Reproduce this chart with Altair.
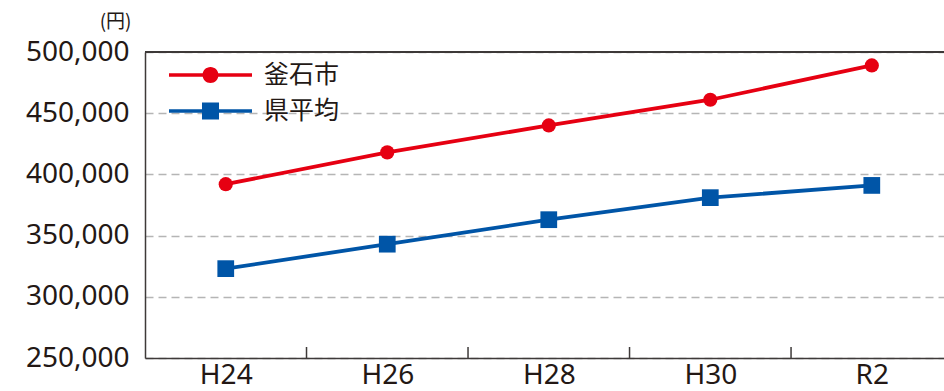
import altair as alt
import pandas as pd

years = ["H24", "H26", "H28", "H30", "R2"]
series_names = ["釜石市", "県平均"]
kamaishi = [392000, 418000, 440000, 461000, 489000]
pref_avg = [323000, 343000, 363000, 381000, 391000]
colors = ["#E60012", "#0055A7"]
y_ticks = [250000, 300000, 350000, 400000, 450000, 500000]
boundaries = [0.5, 1.5, 2.5, 3.5]

rows = []
for i, y in enumerate(years):
    rows.append({"idx": i, "year": y, "series": series_names[0], "value": kamaishi[i]})
    rows.append({"idx": i, "year": y, "series": series_names[1], "value": pref_avg[i]})
df = pd.DataFrame(rows)
bdf = pd.DataFrame({"b": boundaries})

W, H = 799, 306
FONT = "Noto Sans"
JFONT = "Noto Sans CJK JP"
TXT = "#231815"

label_expr = "[" + ",".join(f"'{y}'" for y in years) + "][datum.value]"

x_scale = alt.Scale(domain=[-0.5, 4.447], nice=False, zero=False)
y_scale = alt.Scale(domain=[250000, 500000], nice=False, zero=False)
c_scale = alt.Scale(domain=series_names, range=colors)

x_enc = alt.X("idx:Q", scale=x_scale,
              axis=alt.Axis(values=list(range(len(years))), labelExpr=label_expr,
                            title=None, grid=False, ticks=False, domain=True,
                            domainColor="#3e3a39", domainWidth=1.5,
                            labelFont=FONT, labelFontSize=28, labelColor=TXT,
                            labelPadding=3, labelFlush=False))
y_enc = alt.Y("value:Q", scale=y_scale,
              axis=alt.Axis(values=y_ticks, format=",.0f", title="(円)", titleAngle=0,
                            titleAlign="right", titleX=-14, titleY=-25,
                            titleBaseline="alphabetic", titleFont=JFONT,
                            titleFontSize=19, titleFontWeight="normal", titleColor=TXT,
                            grid=True, gridDash=[8, 5], gridColor="#b5b5b5", gridWidth=1.5,
                            ticks=False, domain=True, domainColor="#3e3a39", domainWidth=1.5,
                            labelFont=FONT, labelFontSize=28, labelColor=TXT,
                            labelPadding=16))

p_circle = "M-1,-0.045H1V0.045H-1Z M-0.193,0A0.193,0.193,0,1,1,0.193,0A0.193,0.193,0,1,1,-0.193,0Z"
p_square = "M-1,-0.045H1V0.045H-1Z M-0.205,-0.205H0.205V0.205H-0.205Z"

legend = alt.Legend(
    title=None, orient="none", legendX=24, legendY=5, padding=0,
    symbolSize=6889, symbolStrokeWidth=0, symbolOpacity=1,
    clipHeight=36, rowPadding=0,
    labelFont=JFONT, labelFontSize=25, labelColor=TXT, labelOffset=12,
)

base = alt.Chart(df)
layers = [
    alt.Chart(df).mark_rule(color="#3e3a39", strokeWidth=1.5).encode(y=alt.datum(500000)),
    alt.Chart(bdf).mark_rule(color="#3e3a39", strokeWidth=1.5).encode(
        x=alt.X("b:Q"), y=alt.datum(250000), y2=alt.datum(259000)),
]
for k, (name, col) in enumerate(zip(series_names, colors)):
    sub = base.transform_filter(alt.datum.series == name)
    layers.append(sub.mark_line(strokeWidth=3.8, color=col).encode(
        x=x_enc if k == 0 else "idx:Q", y=y_enc if k == 0 else "value:Q"))
    if k == 0:
        layers.append(sub.mark_circle(size=201, opacity=1, color=col).encode(x="idx:Q", y="value:Q"))
    else:
        layers.append(sub.mark_square(size=280, opacity=1, color=col).encode(x="idx:Q", y="value:Q"))

legend_layer = base.mark_point(filled=True, size=0).encode(
    x="idx:Q", y="value:Q",
    color=alt.Color("series:N", scale=c_scale, legend=legend),
    shape=alt.Shape("series:N", scale=alt.Scale(domain=series_names, range=[p_circle, p_square]),
                    legend=legend),
)
layers.append(legend_layer)

chart = alt.layer(*layers).properties(
    width=W, height=H,
    autosize=alt.AutoSizeParams(type="none"),
    padding={"left": 145, "top": 52, "right": 0, "bottom": 33},
).configure_view(stroke=None).configure(background="white")

chart.save("out.html", embed_options={"renderer": "svg", "actions": False})
